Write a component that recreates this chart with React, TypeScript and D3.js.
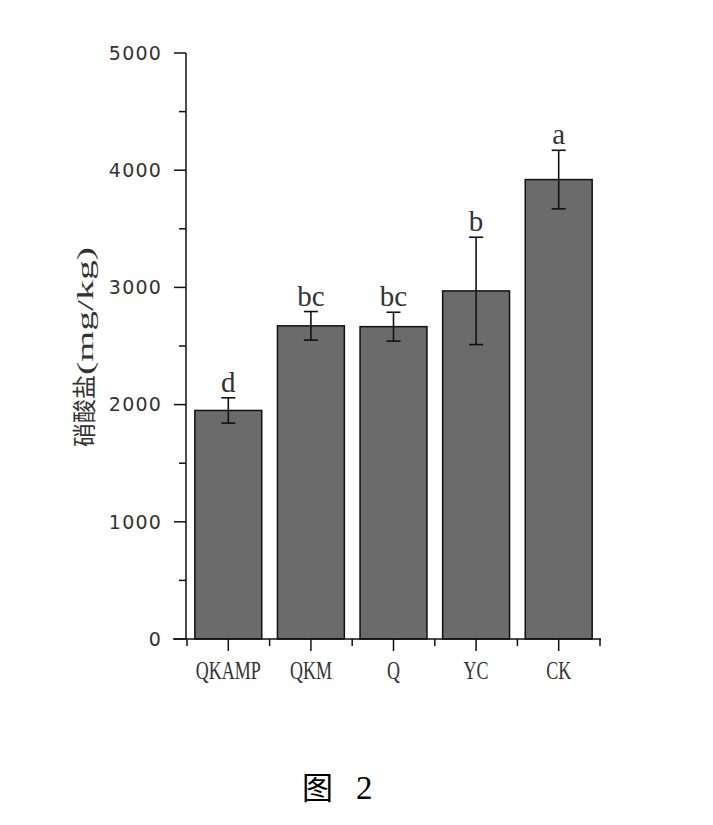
import * as d3 from 'd3';

// treatments, mean nitrate, error (sd) and significance letters
const categories = ['QKAMP', 'QKM', 'Q', 'YC', 'CK'];
const values = [1950, 2672, 2665, 2970, 3920];
const errors = [108, 122, 123, 458, 250];
const letters = ['d', 'bc', 'bc', 'b', 'a'];
const yTicks = [0, 1000, 2000, 3000, 4000, 5000];
const yMinorTicks = [500, 1500, 2500, 3500, 4500];

const W = 713;
const H = 825;
const serif = '"Liberation Serif", "DejaVu Serif", serif';
const cjk = '"Noto Sans CJK SC", sans-serif';

export default function App() {
  const y = d3.scaleLinear().domain([0, 5000]).range([639, 53]);
  const x = d3.scaleBand<string>().domain(categories).range([187, 600]).padding(0);
  const barW = x.bandwidth() * 0.81;
  const axisX = 186;
  const axisY = 639;

  return (
    <div style={{ position: 'absolute', left: 0, top: 0 }}>
      <svg width={W} height={H} style={{ display: 'block', background: '#fff' }}>
        {/* bars */}
        {categories.map((c, i) => {
          const cx = (x(c) ?? 0) + x.bandwidth() / 2;
          return (
            <rect
              key={c}
              x={cx - barW / 2}
              y={y(values[i])}
              width={barW}
              height={axisY - y(values[i])}
              fill="#6b6b6b"
              stroke="#111"
              strokeWidth={1.5}
            />
          );
        })}

        {/* error bars */}
        {categories.map((c, i) => {
          const cx = (x(c) ?? 0) + x.bandwidth() / 2;
          const top = y(values[i] + errors[i]);
          const bot = y(values[i] - errors[i]);
          return (
            <g key={c} stroke="#111" strokeWidth={1.6}>
              <line x1={cx} x2={cx} y1={top} y2={bot} />
              <line x1={cx - 7} x2={cx + 7} y1={top} y2={top} />
              <line x1={cx - 7} x2={cx + 7} y1={bot} y2={bot} />
            </g>
          );
        })}

        {/* significance letters */}
        {categories.map((c, i) => {
          const cx = (x(c) ?? 0) + x.bandwidth() / 2;
          return (
            <text
              key={c}
              x={cx}
              y={y(values[i] + errors[i]) - 6}
              textAnchor="middle"
              fontFamily={serif}
              fontSize={29}
              fill="#333"
            >
              {letters[i]}
            </text>
          );
        })}

        {/* y axis */}
        <line x1={axisX} x2={axisX} y1={y(5000)} y2={axisY} stroke="#111" strokeWidth={1.5} />
        {yTicks.map((t) => (
          <g key={t}>
            <line x1={axisX - 12} x2={axisX} y1={y(t)} y2={y(t)} stroke="#111" strokeWidth={1.5} />
            <text
              x={162}
              y={y(t)}
              dy="0.36em"
              textAnchor="end"
              fontFamily='"DejaVu Sans", sans-serif'
              fontSize={19}
              letterSpacing={1.2}
              fill="#333"
            >
              {t}
            </text>
          </g>
        ))}
        {yMinorTicks.map((t) => (
          <line key={t} x1={axisX - 7} x2={axisX} y1={y(t)} y2={y(t)} stroke="#111" strokeWidth={1.5} />
        ))}

        {/* x axis */}
        <line x1={173} x2={601} y1={axisY} y2={axisY} stroke="#111" strokeWidth={1.5} />
        {categories.map((c) => {
          const cx = (x(c) ?? 0) + x.bandwidth() / 2;
          return (
            <g key={c}>
              <line x1={cx} x2={cx} y1={axisY} y2={axisY + 12} stroke="#111" strokeWidth={1.5} />
              <text
                transform={`translate(${cx},679) scale(0.72,1)`}
                textAnchor="middle"
                fontFamily={serif}
                fontSize={25}
                fill="#333"
              >
                {c}
              </text>
            </g>
          );
        })}
        {categories.map((c) => (
          <line
            key={c}
            x1={x(c) ?? 0}
            x2={x(c) ?? 0}
            y1={axisY}
            y2={axisY + 7}
            stroke="#111"
            strokeWidth={1.5}
          />
        ))}
        <line x1={600} x2={600} y1={axisY} y2={axisY + 7} stroke="#111" strokeWidth={1.5} />

        {/* y axis title */}
        <text
          transform="translate(93,447) rotate(-90)"
          textAnchor="start"
          fontSize={24}
          fill="#333"
        >
          <tspan fontFamily={cjk}>硝酸盐</tspan>
          <tspan fontFamily={serif} textLength={128} lengthAdjust="spacingAndGlyphs">
            (mg/kg)
          </tspan>
        </text>

        {/* caption */}
        <text x={302} y={799} fontFamily={cjk} fontSize={31} fill="#000">
          图
        </text>
        <text x={356} y={799} fontFamily={serif} fontSize={33} fill="#000">
          2
        </text>
      </svg>
    </div>
  );
}
